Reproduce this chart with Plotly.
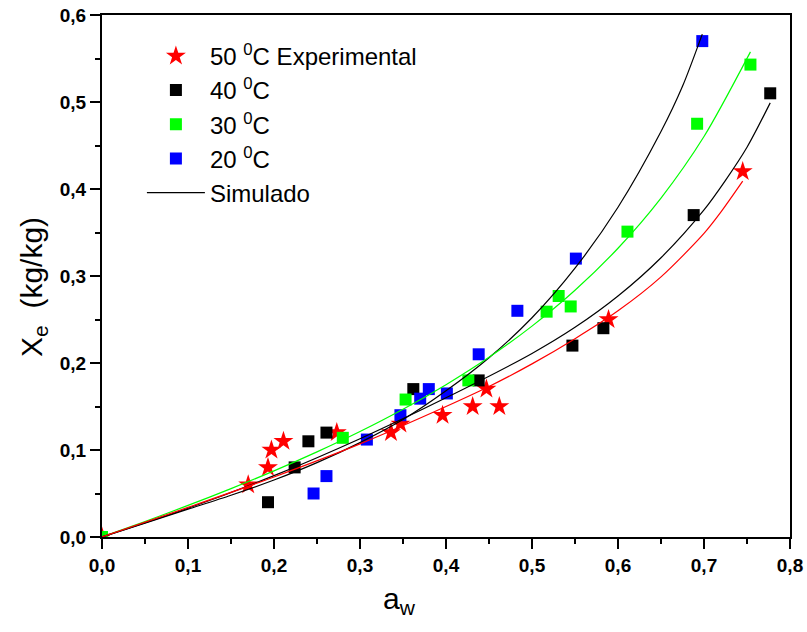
import plotly.graph_objects as go

# Experimental sorption data: water activity a_w vs equilibrium moisture X_e (kg/kg)
aw_50 = [0.0, 0.17, 0.193, 0.197, 0.211, 0.273, 0.336, 0.347, 0.396, 0.431, 0.447, 0.462, 0.589, 0.745]
xe_50 = [0.0, 0.06, 0.08, 0.10, 0.11, 0.12, 0.12, 0.13, 0.14, 0.15, 0.17, 0.15, 0.25, 0.42]

aw_40 = [0.0, 0.193, 0.224, 0.240, 0.261, 0.362, 0.438, 0.547, 0.583, 0.688, 0.777]
xe_40 = [0.0, 0.04, 0.08, 0.11, 0.12, 0.17, 0.18, 0.22, 0.24, 0.37, 0.51]

aw_30 = [0.0, 0.280, 0.353, 0.426, 0.517, 0.531, 0.545, 0.611, 0.692, 0.754]
xe_30 = [0.0, 0.114, 0.158, 0.18, 0.259, 0.277, 0.265, 0.351, 0.475, 0.543]

aw_20 = [0.246, 0.261, 0.308, 0.347, 0.370, 0.380, 0.401, 0.438, 0.483, 0.551, 0.698]
xe_20 = [0.05, 0.07, 0.112, 0.14, 0.159, 0.17, 0.165, 0.21, 0.26, 0.32, 0.57]

# Simulated isotherms (model curves)
sim_aw_50 = [0.0, 0.1, 0.2, 0.3, 0.4, 0.45, 0.5, 0.55, 0.6, 0.65, 0.7, 0.72, 0.745]
sim_xe_50 = [0.0, 0.034, 0.069, 0.107, 0.150, 0.173, 0.199, 0.228, 0.260, 0.299, 0.349, 0.374, 0.409]

sim_aw_40 = [0.0, 0.1, 0.2, 0.3, 0.4, 0.5, 0.55, 0.6, 0.65, 0.7, 0.725, 0.75, 0.777]
sim_xe_40 = [0.0, 0.033, 0.0705, 0.113, 0.160, 0.211, 0.241, 0.277, 0.321, 0.376, 0.410, 0.448, 0.499]

sim_aw_30 = [0.0, 0.05, 0.1, 0.15, 0.2, 0.25, 0.3, 0.35, 0.4, 0.45, 0.5, 0.55, 0.6, 0.65, 0.7, 0.754]
sim_xe_30 = [0.0, 0.0178, 0.0363, 0.0556, 0.0760, 0.0978, 0.1212, 0.1468, 0.1751, 0.2066,
             0.2424, 0.2836, 0.3319, 0.3896, 0.4603, 0.5576]

sim_aw_20 = [0.0, 0.05, 0.1, 0.15, 0.2, 0.25, 0.3, 0.35, 0.4, 0.45, 0.5, 0.55, 0.6, 0.65, 0.675, 0.698]
sim_xe_20 = [0.0, 0.016, 0.032, 0.048, 0.0655, 0.0855, 0.1085, 0.135, 0.168, 0.206,
             0.252, 0.309, 0.379, 0.466, 0.518, 0.578]

FONT = "Liberation Sans, Arial, sans-serif"
GREEN = "#00ff00"
BLUE = "#0000ff"

fig = go.Figure()

marker_sets = [
    ("50 <sup>0</sup>C Experimental", aw_50, xe_50, "red", "star", 15),
    ("40 <sup>0</sup>C", aw_40, xe_40, "black", "square", 12),
    ("30 <sup>0</sup>C", aw_30, xe_30, GREEN, "square", 12),
    ("20 <sup>0</sup>C", aw_20, xe_20, BLUE, "square", 12),
]
for i, (name, xs, ys, color, symbol, size) in enumerate(marker_sets):
    fig.add_trace(go.Scatter(
        x=xs, y=ys, mode="markers", name=name, legendgroup=f"g{i}",
        marker=dict(symbol=symbol, size=size, color=color, line=dict(width=0)),
    ))

curve_sets = [
    (sim_aw_20, sim_xe_20, "black", True),
    (sim_aw_30, sim_xe_30, GREEN, False),
    (sim_aw_40, sim_xe_40, "black", False),
    (sim_aw_50, sim_xe_50, "red", False),
]
for xs, ys, color, show in curve_sets:
    fig.add_trace(go.Scatter(
        x=xs, y=ys, mode="lines", name="Simulado", legendgroup="sim",
        showlegend=show, line=dict(color=color, width=1.2, shape="spline", smoothing=0.8),
    ))

axis_common = dict(
    showline=True, linewidth=2, linecolor="black", mirror=True,
    ticks="outside", ticklen=10, tickwidth=2, tickcolor="black",
    showgrid=False, zeroline=False,
    tickfont=dict(family=FONT, size=19, color="black", weight="bold"),
    minor=dict(ticks="outside", ticklen=5, tickwidth=2, tickcolor="black"),
)

fig.update_xaxes(range=[0, 0.8], dtick=0.1, tickformat=".1f", minor_dtick=0.05, **axis_common)
fig.update_yaxes(range=[0, 0.6], dtick=0.1, tickformat=".1f", minor_dtick=0.05, **axis_common)

title_font = dict(family=FONT, size=30, color="black")
fig.add_annotation(
    text="a<sub>w</sub>", xref="paper", yref="paper", x=0.0, y=-0.122,
    xshift=297, xanchor="center", yanchor="middle", showarrow=False, font=title_font,
)
fig.add_annotation(
    text="X<sub>e</sub>  (kg/kg)", xref="paper", yref="paper", x=0, y=0.479,
    xshift=-68, xanchor="center", yanchor="middle", textangle=-90,
    showarrow=False, font=title_font,
)

fig.update_layout(
    width=807, height=632,
    margin=dict(l=102, r=17, t=15, b=95, autoexpand=False),
    paper_bgcolor="white", plot_bgcolor="white",
    separators=",.",
    showlegend=True,
    legend=dict(
        x=0.058, y=0.964, xanchor="left", yanchor="top",
        bgcolor="rgba(0,0,0,0)", borderwidth=0,
        font=dict(family=FONT, size=24, color="black"),
        traceorder="grouped", tracegroupgap=0, itemwidth=58,
    ),
)

fig.write_html("out.html")
